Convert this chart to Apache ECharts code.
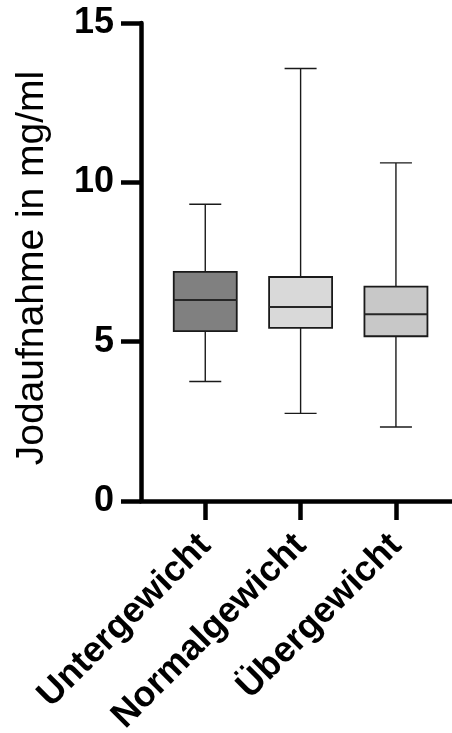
<!DOCTYPE html>
<html>
<head>
<meta charset="utf-8">
<script src="https://cdn.jsdelivr.net/npm/echarts@6/dist/echarts.min.js"></script>
<style>
  html, body { margin: 0; padding: 0; background: #fff; }
  #chart { width: 452px; height: 733px; }
</style>
</head>
<body>
<div id="chart"></div>
<script>
// Weight groups on the x axis
const categories = ['Untergewicht', 'Normalgewicht', 'Übergewicht'];

// Five-number summaries per group (mg/ml)
const minValues    = [3.75, 2.75, 2.32];
const q1Values     = [5.33, 5.43, 5.17];
const medianValues = [6.31, 6.09, 5.86];
const q3Values     = [7.19, 7.03, 6.73];
const maxValues    = [9.31, 13.57, 10.61];

// Y axis ticks
const yTicks = [0, 5, 10, 15];

const boxFills = ['#808080', '#d9d9d9', '#c8c8c8'];

const seriesData = categories.map((c, i) => [i, minValues[i], q1Values[i], medianValues[i], q3Values[i], maxValues[i]]);

const FONT = '"Liberation Sans", Arial, sans-serif';

const chart = echarts.init(document.getElementById('chart'), null, { renderer: 'canvas' });

chart.setOption({
  animation: false,
  backgroundColor: '#ffffff',
  grid: { left: 141, right: 0, top: 23, bottom: 232, containLabel: false, outerBoundsMode: 'none' },
  xAxis: {
    type: 'value',
    min: -0.674,
    max: 2.588,
    splitLine: { show: false },
    axisLine: { show: true, onZero: false, lineStyle: { color: '#000', width: 4.5 } },
    axisTick: { show: true, customValues: [0, 1, 2], length: 19, lineStyle: { color: '#000', width: 4.5 } },
    axisLabel: {
      show: true,
      customValues: [0, 1, 2],
      formatter: (v) => categories[Math.round(v)],
      rotate: 45,
      margin: 39,
      color: '#000',
      fontSize: 36,
      fontWeight: 'bold',
      fontFamily: FONT
    }
  },
  yAxis: {
    type: 'value',
    min: yTicks[0],
    max: yTicks[yTicks.length - 1],
    interval: 5,
    name: 'Jodaufnahme in mg/ml',
    nameLocation: 'middle',
    nameGap: 89,
    nameTextStyle: { color: '#000', fontSize: 39, fontFamily: FONT, padding: [0, 12, 0, 0] },
    splitLine: { show: false },
    axisLine: { show: true, onZero: false, lineStyle: { color: '#000', width: 4.5 } },
    axisTick: { show: true, length: 20, lineStyle: { color: '#000', width: 4.5 } },
    axisLabel: {
      margin: 27,
      color: '#000',
      fontSize: 36,
      fontWeight: 'bold',
      fontFamily: FONT
    }
  },
  series: [{
    type: 'custom',
    clip: false,
    data: seriesData,
    encode: { x: 0, y: [1, 2, 3, 4, 5] },
    renderItem: function (params, api) {
      const i = api.value(0);
      const pMin = api.coord([i, api.value(1)]);
      const pQ1 = api.coord([i, api.value(2)]);
      const pMed = api.coord([i, api.value(3)]);
      const pQ3 = api.coord([i, api.value(4)]);
      const pMax = api.coord([i, api.value(5)]);
      const cx = pMed[0];
      const boxW = 63;
      const capW = 32;
      const whisker = { stroke: '#1a1a1a', lineWidth: 1.4 };
      return {
        type: 'group',
        children: [
          { type: 'line', shape: { x1: cx, y1: pMax[1], x2: cx, y2: pQ3[1] }, style: whisker },
          { type: 'line', shape: { x1: cx, y1: pQ1[1], x2: cx, y2: pMin[1] }, style: whisker },
          { type: 'line', shape: { x1: cx - capW / 2, y1: pMax[1], x2: cx + capW / 2, y2: pMax[1] }, style: whisker },
          { type: 'line', shape: { x1: cx - capW / 2, y1: pMin[1], x2: cx + capW / 2, y2: pMin[1] }, style: whisker },
          {
            type: 'rect',
            shape: { x: cx - boxW / 2, y: pQ3[1], width: boxW, height: pQ1[1] - pQ3[1] },
            style: { fill: boxFills[params.dataIndex], stroke: '#1a1a1a', lineWidth: 1.8 }
          },
          { type: 'line', shape: { x1: cx - boxW / 2, y1: pMed[1], x2: cx + boxW / 2, y2: pMed[1] }, style: { stroke: '#262626', lineWidth: 2 } }
        ]
      };
    }
  }]
});
</script>
</body>
</html>
